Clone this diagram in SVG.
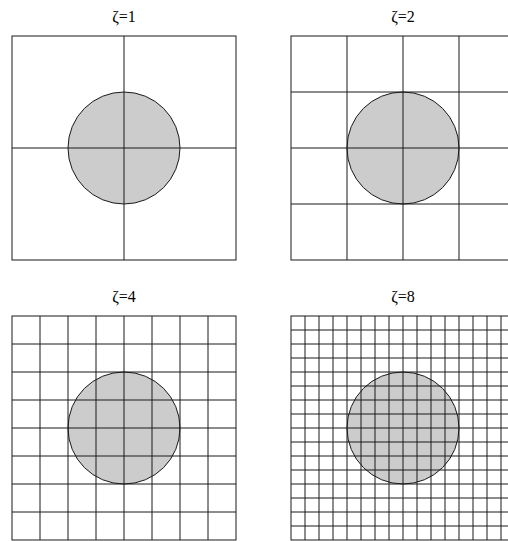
<svg xmlns="http://www.w3.org/2000/svg" width="508" height="541" viewBox="0 0 508 541">
<defs>
<style>
.bg{fill:#ffffff}
.frame{fill:none;stroke:#1a1a1a;stroke-width:1}
.grid{stroke:#1a1a1a;stroke-width:1;fill:none}
.disk{fill:#cccccc;stroke:#1a1a1a;stroke-width:1}
.lbl{font-family:"Liberation Serif","Times New Roman",serif;font-size:16px;fill:#000;text-anchor:middle}
</style>
</defs>
<rect x="0" y="0" width="508" height="541" class="bg"/>
<g id="panel-z1">
<text class="lbl" x="124" y="22">ζ=1</text>
<circle class="disk" cx="124" cy="148" r="56"/>
<path class="grid" d="M124 36V260M12 148H236"/>
<rect class="frame" x="12" y="36" width="224" height="224"/>
</g>
<g id="panel-z2">
<text class="lbl" x="403" y="22">ζ=2</text>
<circle class="disk" cx="403" cy="148" r="56"/>
<path class="grid" d="M347 36V260M403 36V260M459 36V260M291 92H515M291 148H515M291 204H515"/>
<rect class="frame" x="291" y="36" width="224" height="224"/>
</g>
<g id="panel-z4">
<text class="lbl" x="124" y="302">ζ=4</text>
<circle class="disk" cx="124" cy="428" r="56"/>
<path class="grid" d="M40 316V540M68 316V540M96 316V540M124 316V540M152 316V540M180 316V540M208 316V540M12 344H236M12 372H236M12 400H236M12 428H236M12 456H236M12 484H236M12 512H236"/>
<rect class="frame" x="12" y="316" width="224" height="224"/>
</g>
<g id="panel-z8">
<text class="lbl" x="403" y="302">ζ=8</text>
<circle class="disk" cx="403" cy="428" r="56"/>
<path class="grid" d="M305 316V540M319 316V540M333 316V540M347 316V540M361 316V540M375 316V540M389 316V540M403 316V540M417 316V540M431 316V540M445 316V540M459 316V540M473 316V540M487 316V540M501 316V540M291 330H515M291 344H515M291 358H515M291 372H515M291 386H515M291 400H515M291 414H515M291 428H515M291 442H515M291 456H515M291 470H515M291 484H515M291 498H515M291 512H515M291 526H515"/>
<rect class="frame" x="291" y="316" width="224" height="224"/>
</g>
<g id="connectors"></g>
</svg>
